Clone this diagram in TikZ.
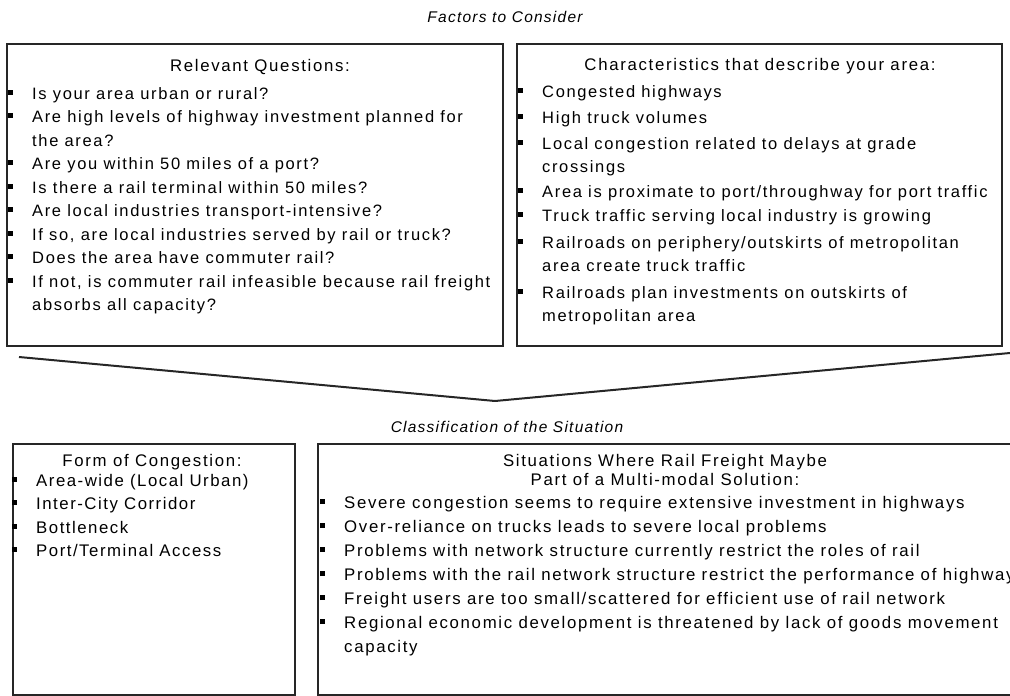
\documentclass[tikz,border=0pt]{standalone}
\usepackage{fontspec}
\setmainfont{Liberation Sans}
\usetikzlibrary{positioning}

% small square bullet, and the indent used for wrapped lines
\newcommand{\bsq}{\rule[4.5pt]{5pt}{5pt}}
\newcommand{\itm}{\makebox[24pt][l]{\bsq}}
\newcommand{\cnt}{\hspace*{24pt}}

\tikzset{
  panel/.style={draw=black!85, line width=1.5pt},
  funnel/.style={draw=black!85, line width=2pt, line join=round},
  heading/.style={font=\fontsize{15.5}{18}\selectfont\itshape\addfontfeature{LetterSpace=8}, inner sep=0pt, anchor=base},
  boxtitle/.style={font=\fontsize{16.8}{20}\selectfont\addfontfeature{LetterSpace=10}, inner sep=0pt, anchor=base},
  qline/.style={font=\fontsize{16.5}{20}\selectfont\addfontfeature{LetterSpace=10}, inner sep=0pt, anchor=base west},
  fline/.style={font=\fontsize{16.8}{20}\selectfont\addfontfeature{LetterSpace=9}, inner sep=0pt, anchor=base west},
  sline/.style={font=\fontsize{16.8}{20}\selectfont\addfontfeature{LetterSpace=10}, inner sep=0pt, anchor=base west}
}

\begin{document}
\begin{tikzpicture}[x=1pt, y=-1pt]
\useasboundingbox (0,0) rectangle (1010,696);

% top: factors
\node[heading] (factors) at (505,22) {Factors to Consider};
\draw[panel] (7,44) rectangle (503,346);
\draw[panel] (517,44) rectangle (1002,346);
\node[boxtitle] (qtitle) at (260,71) {Relevant Questions:};
\node[boxtitle] (ctitle) at (760,70) {Characteristics that describe your area:};

\foreach \txt [count=\i from 0] in {
  {\itm Is your area urban or rural?},
  {\itm Are high levels of highway investment planned for},
  {\cnt the area?},
  {\itm Are you within 50 miles of a port?},
  {\itm Is there a rail terminal within 50 miles?},
  {\itm Are local industries transport-intensive?},
  {\itm If so, are local industries served by rail or truck?},
  {\itm Does the area have commuter rail?},
  {\itm If not, is commuter rail infeasible because rail freight},
  {\cnt absorbs all capacity?}}
  \node[qline] (q\i) at (8,{99+23.5*\i}) {\txt};

\foreach \txt/\yy [count=\i from 0] in {
  {\itm Congested highways}/97,
  {\itm High truck volumes}/123,
  {\itm Local congestion related to delays at grade}/149,
  {\cnt crossings}/172,
  {\itm Area is proximate to port/throughway for port traffic}/197,
  {\itm Truck traffic serving local industry is growing}/221,
  {\itm Railroads on periphery/outskirts of metropolitan}/248,
  {\cnt area create truck traffic}/271,
  {\itm Railroads plan investments on outskirts of}/298,
  {\cnt metropolitan area}/321}
  \node[qline] (c\i) at (518,\yy) {\txt};

% funnel
\coordinate (fl) at (19,357);
\coordinate (ft) at (495,401);
\coordinate (fr) at (1010,353);
\draw[funnel] (fl) -- (ft) -- (fr);

% bottom: classification
\node[heading] (classif) at (507,432) {Classification of the Situation};
\draw[panel] (13,444) rectangle (295,695);
\draw[panel] (318,444) rectangle (1020,695);
\node[boxtitle] (ftitle) at (152,466) {Form of Congestion:};
\node[boxtitle] (stitle) at (665,466) {Situations Where Rail Freight Maybe};
\node[boxtitle] (stitle2) at (665,485) {Part of a Multi-modal Solution:};

\foreach \txt [count=\i from 0] in {
  {\itm Area-wide (Local Urban)},
  {\itm Inter-City Corridor},
  {\itm Bottleneck},
  {\itm Port/Terminal Access}}
  \node[fline] (f\i) at (12,{486+23.5*\i}) {\txt};

\foreach \txt [count=\i from 0] in {
  {\itm Severe congestion seems to require extensive investment in highways},
  {\itm Over-reliance on trucks leads to severe local problems},
  {\itm Problems with network structure currently restrict the roles of rail},
  {\itm Problems with the rail network structure restrict the performance of highways},
  {\itm Freight users are too small/scattered for efficient use of rail network},
  {\itm Regional economic development is threatened by lack of goods movement},
  {\cnt capacity}}
  \node[sline] (s\i) at (320,{508.5+24*\i}) {\txt};
\end{tikzpicture}
\end{document}
